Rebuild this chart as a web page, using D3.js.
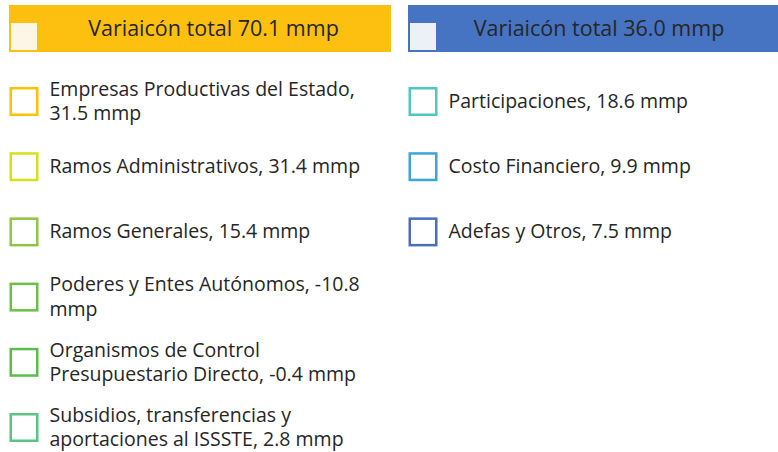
<!DOCTYPE html>
<html>
<head>
<meta charset="utf-8">
<script src="https://cdn.jsdelivr.net/npm/d3@7"></script>
<style>
  body { margin: 0; background: #fff; }
  text { font-family: "Open Sans", Lato, sans-serif; fill: #262626; }
</style>
</head>
<body>
<svg class="chart"></svg>
<script>
var leftTotal  = 70.1;
var rightTotal = 36.0;

var leftNames  = ['Empresas Productivas del Estado', 'Ramos Administrativos', 'Ramos Generales',
                  'Poderes y Entes Autónomos', 'Organismos de Control Presupuestario Directo',
                  'Subsidios, transferencias y aportaciones al ISSSTE'];
var leftValues = [31.5, 31.4, 15.4, -10.8, -0.4, 2.8];
var leftColors = ['#ffc000', '#d4e019', '#8dc63f', '#6cc04a', '#5bbd4b', '#5cc285'];

var rightNames  = ['Participaciones', 'Costo Financiero', 'Adefas y Otros'];
var rightValues = [18.6, 9.9, 7.5];
var rightColors = ['#4fc7c0', '#3ba5d3', '#4a6dbf'];

var width  = 778;
var height = 452;

var svg = d3.select('.chart')
    .attr('width', width)
    .attr('height', height);

// row index -> top of the swatch
var y = d3.scaleLinear().domain([0, 1]).range([87, 152.2]);
var swatch = 29;
var wrapWidth = 324;

function fmt(v) { return v.toFixed(1) + ' mmp'; }

function header(x0, x1, cx, fill, inner, total) {
    var g = svg.append('g');
    g.append('rect').attr('x', x0).attr('y', 5).attr('width', x1 - x0).attr('height', 47).attr('fill', fill);
    g.append('rect').attr('x', x0 + 2).attr('y', 23).attr('width', 26).attr('height', 27).attr('fill', inner);
    g.append('text')
        .attr('x', cx)
        .attr('y', 35.5)
        .attr('text-anchor', 'middle')
        .style('font-size', '21.5px')
        .text('Variaicón total ' + fmt(total));
}

function wrap(textSel, str) {
    var words = str.split(' ');
    var lines = [], line = [];
    var probe = textSel.append('tspan');
    words.forEach(function(w) {
        line.push(w);
        probe.text(line.join(' '));
        if (probe.node().getComputedTextLength() > wrapWidth && line.length > 1) {
            line.pop();
            lines.push(line.join(' '));
            line = [w];
        }
    });
    lines.push(line.join(' '));
    probe.remove();
    return lines;
}

function column(x, names, values, colors) {
    var rows = svg.append('g').selectAll('g')
        .data(names.map(function(n, i) { return {name: n, value: values[i], color: colors[i]}; }))
        .enter().append('g')
        .attr('transform', function(d, i) { return 'translate(' + x + ',' + y(i) + ')'; });

    rows.append('rect')
        .attr('x', 1.25).attr('y', 1.25)
        .attr('width', swatch - 2.5).attr('height', swatch - 2.5)
        .attr('fill', '#fff')
        .attr('stroke', function(d) { return d.color; })
        .attr('stroke-width', 2.5);

    rows.each(function(d) {
        var t = d3.select(this).append('text').style('font-size', '19.5px');
        var lines = wrap(t, d.name + ', ' + fmt(d.value));
        var mid = swatch / 2;
        var first = mid + 6.5 - (lines.length - 1) * 12.25;
        lines.forEach(function(l, k) {
            t.append('tspan').attr('x', 40).attr('y', first + k * 24.5).text(l);
        });
    });
}

header(9, 391, 213.5, '#fdc010', '#fdf5e6', leftTotal);
header(408, 778, 599, '#4673c2', '#eef0f8', rightTotal);
column(9.5, leftNames, leftValues, leftColors);
column(408.5, rightNames, rightValues, rightColors);
</script>
</body>
</html>
